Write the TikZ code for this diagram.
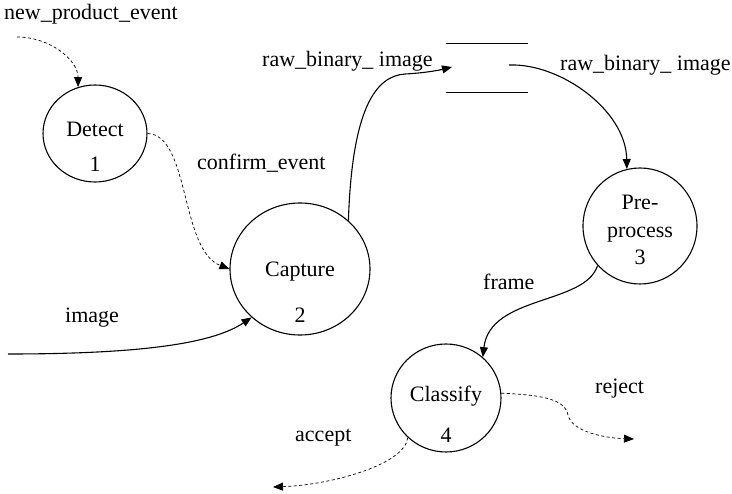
\documentclass[tikz,border=0pt]{standalone}
\usepackage{fontspec}
\setmainfont{Liberation Serif}
\usetikzlibrary{shapes.geometric,arrows.meta}

\tikzset{
  proc/.style={draw, ellipse, line width=1.1pt, inner sep=0pt},
  txt/.style={font=\fontsize{22}{26}\selectfont, inner sep=0pt, anchor=base},
  lbl/.style={font=\fontsize{22}{26}\selectfont, inner sep=0pt, anchor=base west},
  flow/.style={line width=1.1pt, -{Triangle[length=10pt,width=8pt]}},
  ctrl/.style={line width=0.7pt, dash pattern=on 3pt off 2.5pt, -{Triangle[length=10pt,width=8pt]}},
  storeline/.style={line width=1.1pt}
}

\begin{document}
\begin{tikzpicture}[x=1pt,y=-1pt]
     \useasboundingbox (0,0) rectangle (732,494);

     % processes
     \path (95,133.5) node[proc, minimum width=104pt, minimum height=97pt] (detect) {};
     \path (300,269) node[proc, minimum width=140pt, minimum height=132pt] (capture) {};
     \path (640,226) node[proc, minimum width=114pt, minimum height=116pt] (preproc) {};
     \path (446,398) node[proc, minimum width=110pt, minimum height=108pt] (classify) {};

     \path (95,137) node[txt] (detectname) {Detect};
     \path (95,172) node[txt] (detectnum) {1};
     \path (300,277) node[txt] (capturename) {Capture};
     \path (300,323) node[txt] (capturenum) {2};
     \path (640,210) node[txt] (preprocname) {Pre-};
     \path (640,238) node[txt] (preprocname2) {process};
     \path (640,265) node[txt] (preprocnum) {3};
     \path (446,402) node[txt] (classifyname) {Classify};
     \path (446,443) node[txt] (classifynum) {4};

     % data store
     \path (487,68) node[minimum width=82pt, minimum height=48pt, inner sep=0pt] (store) {};
     \draw[storeline] (store.north west) -- (store.north east);
     \draw[storeline] (store.south west) -- (store.south east);
     \coordinate (storein) at (452,67);
     \coordinate (storeout) at (509,65);

     % free ends
     \coordinate (npstart) at (17,37);
     \coordinate (imgstart) at (8,354);
     \coordinate (rejectend) at (634,439);
     \coordinate (acceptend) at (273,487);

     % flows
     \draw[ctrl] (npstart) .. controls (50,37) and (78,60) .. (detect.110);
     \draw[ctrl] (detect.east) .. controls (190,135) and (180,250) .. (capture.180);
     \draw[flow] (imgstart) .. controls (150,354) and (215,342) .. (capture.225);
     \draw[flow] (capture.45) .. controls (352,110) and (375,76) .. (405,74)
                 .. controls (425,73) and (440,70) .. (storein);
     \draw[flow] (storeout) .. controls (560,63) and (626,110) .. (preproc.103);
     \draw[flow] (preproc.223) .. controls (585,305) and (490,295) .. (classify.48);
     \draw[ctrl] (classify.5) .. controls (545,395) and (565,400) .. (568,415)
                 .. controls (572,432) and (605,438) .. (rejectend);
     \draw[ctrl] (classify.226) .. controls (405,465) and (330,485) .. (acceptend);

     % labels
     \path (4,20) node[lbl] (npl) {new\_product\_event};
     \path (197,170) node[lbl] (confl) {confirm\_event};
     \path (65,323) node[lbl] (imgl) {image};
     \path (262,67) node[lbl] (rawl) {raw\_binary\_ image};
     \path (560,71) node[lbl] (rawr) {raw\_binary\_ image};
     \path (483,290) node[lbl] (framel) {frame};
     \path (595,394) node[lbl] (rejectl) {reject};
     \path (295,442) node[lbl] (acceptl) {accept};

   \end{tikzpicture}
\end{document}
